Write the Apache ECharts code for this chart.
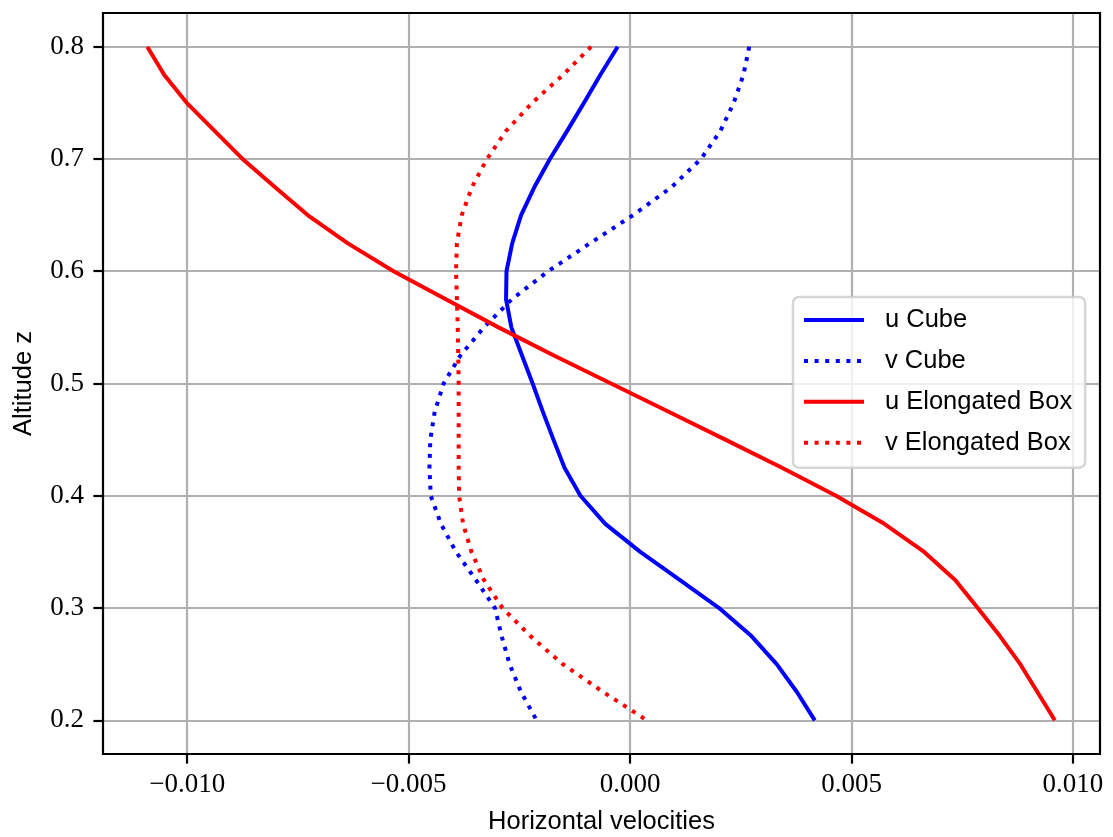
<!DOCTYPE html>
<html>
<head>
<meta charset="utf-8">
<script src="https://cdn.jsdelivr.net/npm/echarts@6/dist/echarts.min.js"></script>
<style>
  html, body { margin: 0; padding: 0; background: #ffffff; }
  #chart { width: 1113px; height: 837px; }
</style>
</head>
<body>
<div id="chart"></div>
<script>
// Altitude levels (top to bottom)
const altitudes = [0.8, 0.775, 0.75, 0.725, 0.7, 0.675, 0.65, 0.625, 0.6, 0.575, 0.55, 0.525, 0.5,
                   0.475, 0.45, 0.425, 0.4, 0.375, 0.35, 0.325, 0.3, 0.275, 0.25, 0.225, 0.2];

const uCube = [-0.00028, -0.00067, -0.00104, -0.00142, -0.00181, -0.00216, -0.00246, -0.00266, -0.00279,
               -0.0028, -0.00268, -0.00244, -0.0022, -0.00197, -0.00173, -0.00148, -0.00112, -0.00056,
               0.00023, 0.00112, 0.00201, 0.00274, 0.00331, 0.00377, 0.00417];

const vCube = [0.00269, 0.00256, 0.00234, 0.00204, 0.0016, 0.00094, 0.00007, -0.0009, -0.00185,
               -0.00267, -0.0033, -0.00383, -0.00421, -0.00441, -0.00451, -0.00453, -0.0045, -0.00427,
               -0.00393, -0.00348, -0.00305, -0.0029, -0.00272, -0.00246, -0.00211];

const uElong = [-0.0109, -0.01052, -0.01001, -0.00938, -0.00875, -0.00802, -0.00728, -0.00638, -0.00534,
                -0.00416, -0.00297, -0.00172, -0.00043, 0.00086, 0.00215, 0.00343, 0.00465, 0.00574,
                0.00664, 0.00734, 0.00785, 0.00835, 0.00881, 0.0092, 0.00959];

const vElong = [-0.00088, -0.00151, -0.00221, -0.0028, -0.00323, -0.00357, -0.0038, -0.00391, -0.00393,
                -0.00391, -0.00389, -0.00388, -0.00387, -0.00387, -0.00387, -0.00387, -0.00386, -0.00377,
                -0.00358, -0.0033, -0.00288, -0.00225, -0.00152, -0.0006, 0.00038];

const seriesNames = ['u Cube', 'v Cube', 'u Elongated Box', 'v Elongated Box'];

const xTicks = [-0.01, -0.005, 0, 0.005, 0.01];
const yTicks = [0.2, 0.3, 0.4, 0.5, 0.6, 0.7, 0.8];

const xTitle = 'Horizontal velocities';
const yTitle = 'Altitude z';

function pairs(xs) { return xs.map((x, i) => [x, altitudes[i]]); }

const SERIF = '"Liberation Serif", "Times New Roman", serif';
const SANS = '"Liberation Sans", Arial, sans-serif';
const DOT = [4, 6.6];

function lineSeries(name, values, color, dotted) {
  return {
    name: name,
    type: 'line',
    data: pairs(values),
    showSymbol: false,
    symbol: 'none',
    smooth: false,
    z: 3,
    lineStyle: { color: color, width: 4, type: dotted ? DOT : 'solid', cap: 'butt', join: 'round' },
    itemStyle: { color: color }
  };
}

const chart = echarts.init(document.getElementById('chart'), null, { renderer: 'canvas' });

chart.setOption({
  animation: false,
  backgroundColor: '#ffffff',
  grid: {
    left: 103, right: 13, top: 13, bottom: 83,
    outerBoundsMode: 'none',
    containLabel: false,
    show: true, borderColor: '#000000', borderWidth: 2.2, backgroundColor: 'transparent',
    z: 4
  },
  xAxis: {
    type: 'value',
    min: -0.0119,
    max: 0.01061,
    splitNumber: 5,
    name: xTitle,
    nameLocation: 'middle',
    nameGap: 55,
    nameTextStyle: { fontFamily: SANS, fontSize: 25.5, color: '#000' },
    axisLine: { show: false, onZero: false },
    axisTick: { show: true, inside: false, length: 9.6, customValues: xTicks,
                lineStyle: { color: '#000', width: 2.2 } },
    axisLabel: { customValues: xTicks, margin: 17, fontFamily: SERIF, fontSize: 27, color: '#000',
                 formatter: v => (v < 0 ? '\u2212' : '') + Math.abs(v).toFixed(3) },
    splitLine: { show: true, lineStyle: { color: '#b0b0b0', width: 2.2 } }
  },
  yAxis: {
    type: 'value',
    min: 0.17,
    max: 0.83,
    splitNumber: 6,
    name: yTitle,
    nameLocation: 'middle',
    nameGap: 66,
    nameTextStyle: { fontFamily: SANS, fontSize: 25.5, color: '#000' },
    axisLine: { show: false, onZero: false },
    axisTick: { show: true, inside: false, length: 9.6, customValues: yTicks,
                lineStyle: { color: '#000', width: 2.2 } },
    axisLabel: { customValues: yTicks, margin: 19, fontFamily: SERIF, fontSize: 27, color: '#000',
                 formatter: v => v.toFixed(1) },
    splitLine: { show: true, lineStyle: { color: '#b0b0b0', width: 2.2 } }
  },
  legend: {
    data: seriesNames,
    orient: 'vertical',
    left: 793,
    top: 297,
    padding: [9, 13, 11, 9],
    itemWidth: 60,
    itemHeight: 14,
    itemGap: 12.9,
    backgroundColor: 'rgba(255,255,255,0.8)',
    borderColor: 'rgba(204,204,204,0.8)',
    borderWidth: 2.5,
    borderRadius: 6,
    lineStyle: { width: 4, cap: 'butt' },
    itemStyle: { color: 'rgba(0,0,0,0)', borderWidth: 0, opacity: 0 },
    textStyle: { fontFamily: SANS, fontSize: 25.5, color: '#000', lineHeight: 28, padding: [0, 0, 0, 16] },
    z: 10
  },
  series: [
    lineSeries(seriesNames[0], uCube, '#0000ff', false),
    lineSeries(seriesNames[1], vCube, '#0000ff', true),
    lineSeries(seriesNames[2], uElong, '#ff0000', false),
    lineSeries(seriesNames[3], vElong, '#ff0000', true)
  ]
});
</script>
</body>
</html>
